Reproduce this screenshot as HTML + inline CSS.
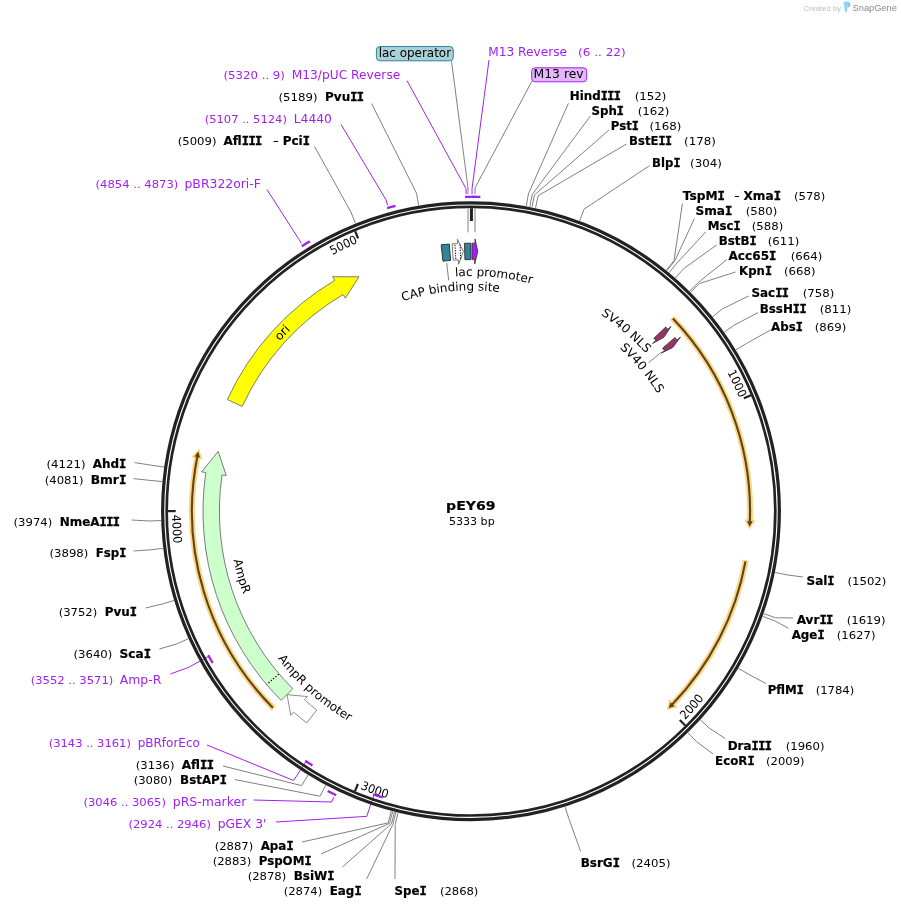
<!DOCTYPE html>
<html lang="en"><head><meta charset="utf-8"><title>pEY69 plasmid map</title>
<style>
html,body{margin:0;padding:0;background:#fff;}
svg{display:block;font-family:'DejaVu Sans','Liberation Sans',sans-serif;will-change:transform;}
.m{font-family:'DejaVu Sans Mono','Liberation Mono',monospace;letter-spacing:-0.6px;stroke-width:0.45px;}
.b{font-weight:bold;stroke:#000;stroke-width:0.2px;}
</style></head><body>
<svg width="901" height="909" viewBox="0 0 901 909" role="img" aria-label="pEY69 plasmid map">
<defs>
<path id="p1" d="M684.57 313.25 A291.2 291.2 0 0 1 739.4 398.23"/>
<path id="p2" d="M273.11 297.57 A291.2 291.2 0 0 1 358.11 242.77"/>
<path id="p3" d="M684.96 720.06 A299 299 0 0 0 743.49 634.28"/>
<path id="p4" d="M359.9 788.79 A299 299 0 0 0 461.54 810.05"/>
<path id="p5" d="M172.02 514.76 A299 299 0 0 0 191.27 616.81"/>
<path id="p6" d="M215.75 496.04 A255.7 255.7 0 0 1 441.61 257.19"/>
<path id="p7" d="M249.72 411.99 A242.5 242.5 0 0 0 334.87 711.89"/>
<path id="p8" d="M230.73 547.54 A243 243 0 0 0 465.06 754.13"/>
<path id="p9" d="M337.89 317.17 A235.3 235.3 0 0 1 638.97 346.42"/>
<path id="p10" d="M314.06 355.89 A220.8 220.8 0 0 1 596.7 329.67"/>
<path id="p11" d="M473.88 275.72 A235.5 235.5 0 0 1 703.4 473.14"/>
<path id="p12" d="M509.5 293.98 A220.6 220.6 0 0 1 691.6 511.39"/>
</defs>
<path d="M451.5 61 L468 188 L468 194 M468 209 L468 232.3" stroke="#808080" stroke-width="1" fill="none"/>
<path d="M532 81 L475 188 L475 194 M475 209 L475 232.3" stroke="#808080" stroke-width="1" fill="none"/>
<path d="M301.45 243.35 L298.51 238.71 L267 189.6" stroke="#a020f0" stroke-width="1" fill="none" stroke-linejoin="round"/>
<path d="M387.59 205.37 L386.14 200.06 L341 124.4" stroke="#a020f0" stroke-width="1" fill="none" stroke-linejoin="round"/>
<path d="M466.14 194.24 L466.06 188.74 L407 80.6" stroke="#a020f0" stroke-width="1" fill="none" stroke-linejoin="round"/>
<path d="M472.01 194.2 L472.03 188.7 L489 60" stroke="#a020f0" stroke-width="1" fill="none" stroke-linejoin="round"/>
<path d="M209.61 655.75 L188.78 667.27 L170.4 674" stroke="#a020f0" stroke-width="1" fill="none" stroke-linejoin="round"/>
<path d="M306.65 760.62 L293.56 780.5 L207 745" stroke="#a020f0" stroke-width="1" fill="none" stroke-linejoin="round"/>
<path d="M333.94 797.04 L331.56 802 L253.6 800" stroke="#a020f0" stroke-width="1" fill="none" stroke-linejoin="round"/>
<path d="M374.41 793.85 L366.71 816.37 L276 822" stroke="#a020f0" stroke-width="1" fill="none" stroke-linejoin="round"/>
<circle cx="471.0" cy="511.2" r="308.35" fill="none" stroke="#222222" stroke-width="3.2"/>
<circle cx="471.0" cy="511.2" r="304.3" fill="none" stroke="#222222" stroke-width="2.7"/>
<path d="M750.94 395.27 L743.83 398.21" stroke="#222222" stroke-width="2.2" fill="none"/>
<path d="M685.22 725.48 L679.78 720.04" stroke="#222222" stroke-width="2.2" fill="none"/>
<path d="M354.99 791.11 L357.93 784" stroke="#222222" stroke-width="2.2" fill="none"/>
<path d="M168 511.11 L175.7 511.11" stroke="#222222" stroke-width="2.2" fill="none"/>
<path d="M355.15 231.22 L358.09 238.34" stroke="#222222" stroke-width="2.2" fill="none"/>
<path d="M471.48 208.2 L471.46 220.9" stroke="#222222" stroke-width="3" fill="none"/>
<text font-size="12" fill="#000" text-anchor="end"><textPath href="#p1" startOffset="100%" textLength="28.4" lengthAdjust="spacingAndGlyphs">1000</textPath></text>
<text font-size="12" fill="#000" text-anchor="end"><textPath href="#p2" startOffset="100%" textLength="28.4" lengthAdjust="spacingAndGlyphs">5000</textPath></text>
<text font-size="12" fill="#000" text-anchor="start"><textPath href="#p3" startOffset="0" textLength="29" lengthAdjust="spacingAndGlyphs">2000</textPath></text>
<text font-size="12" fill="#000" text-anchor="start"><textPath href="#p4" startOffset="0" textLength="29" lengthAdjust="spacingAndGlyphs">3000</textPath></text>
<text font-size="12" fill="#000" text-anchor="start"><textPath href="#p5" startOffset="0" textLength="29" lengthAdjust="spacingAndGlyphs">4000</textPath></text>
<path d="M672.07 317.71 A279.05 279.05 0 0 1 749.91 520.05" fill="none" stroke="#ffd580" stroke-width="6"/>
<path d="M744.03 519.38 L749.45 529.55 L755.82 519.74 Z" fill="#ffd580"/>
<path d="M672.9 318.57 A279.05 279.05 0 0 1 749.86 521.55" fill="none" stroke="#5a4620" stroke-width="2.1"/>
<path d="M746.98 520.96 L749.62 526.65 L752.77 521.16 Z" fill="#5a4620"/>
<path d="M745.73 560.14 A279.05 279.05 0 0 1 673.26 703.45" fill="none" stroke="#ffd580" stroke-width="6"/>
<path d="M669.31 699.04 L666.59 710.23 L677.88 707.15 Z" fill="#ffd580"/>
<path d="M745.51 561.32 A279.05 279.05 0 0 1 672.22 704.53" fill="none" stroke="#5a4620" stroke-width="2.1"/>
<path d="M670.47 702.18 L668.65 708.19 L674.65 706.19 Z" fill="#5a4620"/>
<path d="M273.68 708.52 A279.05 279.05 0 0 1 197.06 458.07" fill="none" stroke="#ffd580" stroke-width="6"/>
<path d="M202.76 459.66 L199.03 448.76 L191.17 457.43 Z" fill="#ffd580"/>
<path d="M272.84 707.67 A279.05 279.05 0 0 1 197.34 456.59" fill="none" stroke="#5a4620" stroke-width="2.1"/>
<path d="M200.09 457.63 L198.39 451.59 L194.41 456.51 Z" fill="#5a4620"/>
<path d="M242.27 406.38 A251.6 251.6 0 0 1 343.13 294.52 L345.31 298.22 L358.99 276.79 L332.61 276.69 L334.79 280.39 A268 268 0 0 0 227.36 399.55 Z" fill="#ffff00" stroke="#666" stroke-width="0.85" stroke-linejoin="miter"/>
<path d="M292.78 688.8 A251.6 251.6 0 0 1 222.03 474.91 L226.29 475.53 L218.17 451.43 L201.55 471.92 L205.8 472.54 A268 268 0 0 0 281.16 700.37 Z" fill="#ccffcc" stroke="#666" stroke-width="0.85" stroke-linejoin="miter"/>
<path d="M278.73 674.26 L266.99 684.22" stroke="#fff" stroke-width="1.2" fill="none"/>
<path d="M278.73 674.26 L266.99 684.22" stroke="#000" stroke-width="1.2" stroke-dasharray="1.4 1.6" fill="none"/>
<path d="M316.79 710 A251.6 251.6 0 0 1 304.48 699.81 L307.33 696.59 L287.04 694.65 L290.78 715.33 L293.63 712.11 A268 268 0 0 0 306.74 722.96 Z" fill="#ffffff" stroke="#777" stroke-width="0.85" stroke-linejoin="miter"/>
<path d="M442.95 261.17 A251.6 251.6 0 0 1 450.6 260.43 L449.27 244.08 A268 268 0 0 0 441.13 244.87 Z" fill="#31849b" stroke="#333" stroke-width="1"/>
<path d="M453.23 260.23 A251.6 251.6 0 0 1 458.42 259.91 L458.64 264.21 L463.38 251.51 L457.39 239.24 L457.6 243.53 A268 268 0 0 0 452.07 243.87 Z" fill="#ffffff" stroke="#666" stroke-width="0.85" stroke-linejoin="miter"/>
<path d="M455.8 259.06 L454.93 244.68" stroke="#000" stroke-width="1" stroke-dasharray="1.3 1.3" fill="none"/>
<path d="M460.64 258.81 L460.05 244.42" stroke="#000" stroke-width="1" stroke-dasharray="1.3 1.3" fill="none"/>
<path d="M464.94 259.67 A251.6 251.6 0 0 1 470.78 259.6 L470.77 243.2 A268 268 0 0 0 464.55 243.28 Z" fill="#31849b" stroke="#333" stroke-width="1"/>
<path d="M471.97 259.6 A251.6 251.6 0 0 1 474.78 259.63 L474.71 263.93 L477.8 251.49 L475.09 238.93 L475.02 243.23 A268 268 0 0 0 472.03 243.2 Z" fill="#a020f0" stroke="#333" stroke-width="0.85" stroke-linejoin="miter"/>
<path d="M653.81 338.33 A251.6 251.6 0 0 1 655.83 340.49 L652.67 343.41 L663.92 337.19 L671.04 326.45 L667.88 329.37 A268 268 0 0 0 665.72 327.06 Z" fill="#993366" stroke="#333" stroke-width="0.85" stroke-linejoin="miter"/>
<path d="M662.6 348.13 A251.6 251.6 0 0 1 664.51 350.4 L661.2 353.15 L672.76 347.53 L680.43 337.17 L677.12 339.92 A268 268 0 0 0 675.09 337.5 Z" fill="#993366" stroke="#333" stroke-width="0.85" stroke-linejoin="miter"/>
<text font-size="12" fill="#000" text-anchor="middle"><textPath href="#p6" startOffset="50%" textLength="15.9" lengthAdjust="spacingAndGlyphs">ori</textPath></text>
<text font-size="12" fill="#000" text-anchor="middle"><textPath href="#p7" startOffset="50%" textLength="35.7" lengthAdjust="spacingAndGlyphs">AmpR</textPath></text>
<text font-size="12" fill="#000" text-anchor="middle"><textPath href="#p8" startOffset="50%" textLength="95.5" lengthAdjust="spacingAndGlyphs">AmpR promoter</textPath></text>
<text font-size="12" fill="#000" text-anchor="middle"><textPath href="#p9" startOffset="50%" textLength="77.2" lengthAdjust="spacingAndGlyphs">lac promoter</textPath></text>
<text font-size="12" fill="#000" text-anchor="middle"><textPath href="#p10" startOffset="50%" textLength="97.8" lengthAdjust="spacingAndGlyphs">CAP binding site</textPath></text>
<text font-size="12" fill="#000" text-anchor="middle"><textPath href="#p11" startOffset="50%" textLength="59.8" lengthAdjust="spacingAndGlyphs">SV40 NLS</textPath></text>
<text font-size="12" fill="#000" text-anchor="middle"><textPath href="#p12" startOffset="50%" textLength="59.8" lengthAdjust="spacingAndGlyphs">SV40 NLS</textPath></text>
<path d="M446.7 263 L448.7 280.3" stroke="#808080" stroke-width="1" fill="none"/>
<path d="M660.7 352.7 L648.7 362.7" stroke="#808080" stroke-width="1" fill="none"/>
<path d="M526.22 206.16 L528.45 193.86 L568.4 103.4" stroke="#808080" stroke-width="1" fill="none" stroke-linejoin="round"/>
<text x="569.7" y="100" font-size="12" class="b" fill="#000" textLength="50.65" lengthAdjust="spacingAndGlyphs">Hind<tspan class="m">III</tspan></text>
<text x="634.7" y="100" font-size="11" fill="#000" textLength="31.8" lengthAdjust="spacingAndGlyphs">(152)</text>
<path d="M529.81 206.83 L532.18 194.56 L590.4 116" stroke="#808080" stroke-width="1" fill="none" stroke-linejoin="round"/>
<text x="591.5" y="115" font-size="12" class="b" fill="#000" textLength="31.85" lengthAdjust="spacingAndGlyphs">Sph<tspan class="m">I</tspan></text>
<text x="637.7" y="115" font-size="11" fill="#000" textLength="31.8" lengthAdjust="spacingAndGlyphs">(162)</text>
<path d="M531.96 207.25 L534.42 195 L609 130" stroke="#808080" stroke-width="1" fill="none" stroke-linejoin="round"/>
<text x="610.7" y="130" font-size="12" class="b" fill="#000" textLength="27.65" lengthAdjust="spacingAndGlyphs">Pst<tspan class="m">I</tspan></text>
<text x="649.5" y="130" font-size="11" fill="#000" textLength="31.8" lengthAdjust="spacingAndGlyphs">(168)</text>
<path d="M535.54 207.99 L538.14 195.77 L626.6 144" stroke="#808080" stroke-width="1" fill="none" stroke-linejoin="round"/>
<text x="629.1" y="145" font-size="12" class="b" fill="#000" textLength="42.25" lengthAdjust="spacingAndGlyphs">BstE<tspan class="m">II</tspan></text>
<text x="684.1" y="145" font-size="11" fill="#000" textLength="31.8" lengthAdjust="spacingAndGlyphs">(178)</text>
<path d="M579.67 220.87 L584.05 209.17 L649.6 165.6" stroke="#808080" stroke-width="1" fill="none" stroke-linejoin="round"/>
<text x="652.1" y="167" font-size="12" class="b" fill="#000" textLength="27.75" lengthAdjust="spacingAndGlyphs">Blp<tspan class="m">I</tspan></text>
<text x="690.1" y="167" font-size="11" fill="#000" textLength="31.8" lengthAdjust="spacingAndGlyphs">(304)</text>
<path d="M666.73 270.8 L674.62 261.11 L694.4 218.6" stroke="#808080" stroke-width="1" fill="none" stroke-linejoin="round"/>
<text x="695.5" y="215" font-size="12" class="b" fill="#000" textLength="36.25" lengthAdjust="spacingAndGlyphs">Sma<tspan class="m">I</tspan></text>
<text x="745.7" y="215" font-size="11" fill="#000" textLength="31.6" lengthAdjust="spacingAndGlyphs">(580)</text>
<path d="M668.99 272.66 L676.97 263.04 L705.6 232" stroke="#808080" stroke-width="1" fill="none" stroke-linejoin="round"/>
<text x="707.7" y="230" font-size="12" class="b" fill="#000" textLength="32.25" lengthAdjust="spacingAndGlyphs">Msc<tspan class="m">I</tspan></text>
<text x="751.7" y="230" font-size="11" fill="#000" textLength="31.6" lengthAdjust="spacingAndGlyphs">(588)</text>
<path d="M675.38 278.11 L683.62 268.71 L716.6 245" stroke="#808080" stroke-width="1" fill="none" stroke-linejoin="round"/>
<text x="718.7" y="245" font-size="12" class="b" fill="#000" textLength="37.25" lengthAdjust="spacingAndGlyphs">BstB<tspan class="m">I</tspan></text>
<text x="767.7" y="245" font-size="11" fill="#000" textLength="31.6" lengthAdjust="spacingAndGlyphs">(611)</text>
<path d="M689.52 291.32 L698.34 282.45 L727 259.4" stroke="#808080" stroke-width="1" fill="none" stroke-linejoin="round"/>
<text x="728.5" y="260" font-size="12" class="b" fill="#000" textLength="47.25" lengthAdjust="spacingAndGlyphs">Acc65<tspan class="m">I</tspan></text>
<text x="790.7" y="260" font-size="11" fill="#000" textLength="31.6" lengthAdjust="spacingAndGlyphs">(664)</text>
<path d="M690.56 292.35 L699.41 283.53 L735.6 272" stroke="#808080" stroke-width="1" fill="none" stroke-linejoin="round"/>
<text x="739.1" y="275" font-size="12" class="b" fill="#000" textLength="32.25" lengthAdjust="spacingAndGlyphs">Kpn<tspan class="m">I</tspan></text>
<text x="783.9" y="275" font-size="11" fill="#000" textLength="31.6" lengthAdjust="spacingAndGlyphs">(668)</text>
<path d="M712.49 316.82 L722.22 308.98 L748.6 296" stroke="#808080" stroke-width="1" fill="none" stroke-linejoin="round"/>
<text x="751.5" y="297" font-size="12" class="b" fill="#000" textLength="36.85" lengthAdjust="spacingAndGlyphs">Sac<tspan class="m">II</tspan></text>
<text x="802.7" y="297" font-size="11" fill="#000" textLength="31.6" lengthAdjust="spacingAndGlyphs">(758)</text>
<path d="M724.15 332.27 L734.35 325.05 L758 312.6" stroke="#808080" stroke-width="1" fill="none" stroke-linejoin="round"/>
<text x="759.7" y="313" font-size="12" class="b" fill="#000" textLength="46.25" lengthAdjust="spacingAndGlyphs">BssH<tspan class="m">II</tspan></text>
<text x="819.7" y="313" font-size="11" fill="#000" textLength="31.6" lengthAdjust="spacingAndGlyphs">(811)</text>
<path d="M735.77 349.97 L746.45 343.47 L770.6 330" stroke="#808080" stroke-width="1" fill="none" stroke-linejoin="round"/>
<text x="771.1" y="331" font-size="12" class="b" fill="#000" textLength="31.25" lengthAdjust="spacingAndGlyphs">Abs<tspan class="m">I</tspan></text>
<text x="814.7" y="331" font-size="11" fill="#000" textLength="31.6" lengthAdjust="spacingAndGlyphs">(869)</text>
<path d="M774.89 572.43 L787.15 574.9 L803 577" stroke="#808080" stroke-width="1" fill="none" stroke-linejoin="round"/>
<text x="806.5" y="585" font-size="12" class="b" fill="#000" textLength="27.45" lengthAdjust="spacingAndGlyphs">Sal<tspan class="m">I</tspan></text>
<text x="847.5" y="585" font-size="11" fill="#000" textLength="38.8" lengthAdjust="spacingAndGlyphs">(1502)</text>
<path d="M763.6 613.6 L775.4 617.73 L793 618" stroke="#808080" stroke-width="1" fill="none" stroke-linejoin="round"/>
<text x="796.7" y="624" font-size="12" class="b" fill="#000" textLength="36.05" lengthAdjust="spacingAndGlyphs">Avr<tspan class="m">II</tspan></text>
<text x="846.7" y="624" font-size="11" fill="#000" textLength="38.8" lengthAdjust="spacingAndGlyphs">(1619)</text>
<path d="M762.62 616.36 L774.38 620.6 L788.6 628.4" stroke="#808080" stroke-width="1" fill="none" stroke-linejoin="round"/>
<text x="791.7" y="639" font-size="12" class="b" fill="#000" textLength="32.25" lengthAdjust="spacingAndGlyphs">Age<tspan class="m">I</tspan></text>
<text x="836.7" y="639" font-size="11" fill="#000" textLength="38.8" lengthAdjust="spacingAndGlyphs">(1627)</text>
<path d="M738.3 668.2 L749.08 674.53 L766 683.6" stroke="#808080" stroke-width="1" fill="none" stroke-linejoin="round"/>
<text x="767.7" y="694" font-size="12" class="b" fill="#000" textLength="35.65" lengthAdjust="spacingAndGlyphs">PflM<tspan class="m">I</tspan></text>
<text x="815.7" y="694" font-size="11" fill="#000" textLength="38.6" lengthAdjust="spacingAndGlyphs">(1784)</text>
<path d="M700.26 719.87 L709.5 728.28 L725.4 738.6" stroke="#808080" stroke-width="1" fill="none" stroke-linejoin="round"/>
<text x="727.7" y="750" font-size="12" class="b" fill="#000" textLength="43.65" lengthAdjust="spacingAndGlyphs">Dra<tspan class="m">III</tspan></text>
<text x="785.7" y="750" font-size="11" fill="#000" textLength="38.8" lengthAdjust="spacingAndGlyphs">(1960)</text>
<path d="M687.83 732.75 L696.58 741.68 L713 754" stroke="#808080" stroke-width="1" fill="none" stroke-linejoin="round"/>
<text x="715.1" y="765" font-size="12" class="b" fill="#000" textLength="38.85" lengthAdjust="spacingAndGlyphs">EcoR<tspan class="m">I</tspan></text>
<text x="766.1" y="765" font-size="11" fill="#000" textLength="38.4" lengthAdjust="spacingAndGlyphs">(2009)</text>
<path d="M565 806.6 L568.8 818.51 L580.6 851.4" stroke="#808080" stroke-width="1" fill="none" stroke-linejoin="round"/>
<text x="580.7" y="867" font-size="12" class="b" fill="#000" textLength="38.65" lengthAdjust="spacingAndGlyphs">BsrG<tspan class="m">I</tspan></text>
<text x="631.5" y="867" font-size="11" fill="#000" textLength="39" lengthAdjust="spacingAndGlyphs">(2405)</text>
<path d="M398.09 812.51 L395.16 824.65 L395 879" stroke="#808080" stroke-width="1" fill="none" stroke-linejoin="round"/>
<text x="394.6" y="895" font-size="12" class="b" fill="#000" textLength="31.55" lengthAdjust="spacingAndGlyphs">Spe<tspan class="m">I</tspan></text>
<text x="439.9" y="895" font-size="11" fill="#000" textLength="38.5" lengthAdjust="spacingAndGlyphs">(2868)</text>
<path d="M666.16 270.34 L674.03 260.63 L682.4 203.6" stroke="#808080" stroke-width="1" fill="none" stroke-linejoin="round"/>
<text x="682.7" y="200" font-size="12" class="b" fill="#000" textLength="41.65" lengthAdjust="spacingAndGlyphs">TspM<tspan class="m">I</tspan></text>
<text x="734.1" y="200" font-size="12" fill="#000" textLength="5.8" lengthAdjust="spacingAndGlyphs">-</text>
<text x="743.5" y="200" font-size="12" class="b" fill="#000" textLength="36.85" lengthAdjust="spacingAndGlyphs">Xma<tspan class="m">I</tspan></text>
<text x="794.1" y="200" font-size="11" fill="#000" textLength="31.2" lengthAdjust="spacingAndGlyphs">(578)</text>
<path d="M395.97 811.98 L392.94 824.11 L366.7 879" stroke="#808080" stroke-width="1" fill="none" stroke-linejoin="round"/>
<text x="283.7" y="895" font-size="11" fill="#000" textLength="38.6" lengthAdjust="spacingAndGlyphs">(2874)</text>
<text x="329.7" y="895" font-size="12" class="b" fill="#000" textLength="31.25" lengthAdjust="spacingAndGlyphs">Eag<tspan class="m">I</tspan></text>
<path d="M394.55 811.63 L391.47 823.74 L342.4 867" stroke="#808080" stroke-width="1" fill="none" stroke-linejoin="round"/>
<text x="247.7" y="880" font-size="11" fill="#000" textLength="38.6" lengthAdjust="spacingAndGlyphs">(2878)</text>
<text x="293.7" y="880" font-size="12" class="b" fill="#000" textLength="40.25" lengthAdjust="spacingAndGlyphs">BsiW<tspan class="m">I</tspan></text>
<path d="M392.78 811.17 L389.63 823.27 L321 854" stroke="#808080" stroke-width="1" fill="none" stroke-linejoin="round"/>
<text x="212.7" y="865" font-size="11" fill="#000" textLength="38.6" lengthAdjust="spacingAndGlyphs">(2883)</text>
<text x="258.7" y="865" font-size="12" class="b" fill="#000" textLength="52.25" lengthAdjust="spacingAndGlyphs">PspOM<tspan class="m">I</tspan></text>
<path d="M391.37 810.8 L388.16 822.88 L302 842" stroke="#808080" stroke-width="1" fill="none" stroke-linejoin="round"/>
<text x="214.7" y="850" font-size="11" fill="#000" textLength="38.6" lengthAdjust="spacingAndGlyphs">(2887)</text>
<text x="260.7" y="850" font-size="12" class="b" fill="#000" textLength="32.25" lengthAdjust="spacingAndGlyphs">Apa<tspan class="m">I</tspan></text>
<path d="M325.88 785.13 L320.03 796.18 L235 779.6" stroke="#808080" stroke-width="1" fill="none" stroke-linejoin="round"/>
<text x="133.7" y="784" font-size="11" fill="#000" textLength="38.6" lengthAdjust="spacingAndGlyphs">(3080)</text>
<text x="180.1" y="784" font-size="12" class="b" fill="#000" textLength="46.25" lengthAdjust="spacingAndGlyphs">BstAP<tspan class="m">I</tspan></text>
<path d="M308.13 774.97 L301.57 785.61 L223 766" stroke="#808080" stroke-width="1" fill="none" stroke-linejoin="round"/>
<text x="135.7" y="769" font-size="11" fill="#000" textLength="38.8" lengthAdjust="spacingAndGlyphs">(3136)</text>
<text x="181.7" y="769" font-size="12" class="b" fill="#000" textLength="31.65" lengthAdjust="spacingAndGlyphs">Afl<tspan class="m">II</tspan></text>
<path d="M188.43 638.69 L177.04 643.83 L159.4 649" stroke="#808080" stroke-width="1" fill="none" stroke-linejoin="round"/>
<text x="73.5" y="658" font-size="11" fill="#000" textLength="38.8" lengthAdjust="spacingAndGlyphs">(3640)</text>
<text x="119.5" y="658" font-size="12" class="b" fill="#000" textLength="30.85" lengthAdjust="spacingAndGlyphs">Sca<tspan class="m">I</tspan></text>
<path d="M174.11 600.41 L162.14 604 L145.6 608" stroke="#808080" stroke-width="1" fill="none" stroke-linejoin="round"/>
<text x="58.7" y="616" font-size="11" fill="#000" textLength="38.6" lengthAdjust="spacingAndGlyphs">(3752)</text>
<text x="104.7" y="616" font-size="12" class="b" fill="#000" textLength="31.65" lengthAdjust="spacingAndGlyphs">Pvu<tspan class="m">I</tspan></text>
<path d="M163.22 548.27 L150.81 549.77 L133.6 551" stroke="#808080" stroke-width="1" fill="none" stroke-linejoin="round"/>
<text x="49.5" y="557" font-size="11" fill="#000" textLength="38.8" lengthAdjust="spacingAndGlyphs">(3898)</text>
<text x="95.7" y="557" font-size="12" class="b" fill="#000" textLength="30.05" lengthAdjust="spacingAndGlyphs">Fsp<tspan class="m">I</tspan></text>
<path d="M161.14 520.6 L148.65 520.98 L131.6 520" stroke="#808080" stroke-width="1" fill="none" stroke-linejoin="round"/>
<text x="13.5" y="526" font-size="11" fill="#000" textLength="38.8" lengthAdjust="spacingAndGlyphs">(3974)</text>
<text x="59.7" y="526" font-size="12" class="b" fill="#000" textLength="59.65" lengthAdjust="spacingAndGlyphs">NmeA<tspan class="m">III</tspan></text>
<path d="M162.42 481.57 L149.98 480.38 L133.6 478.6" stroke="#808080" stroke-width="1" fill="none" stroke-linejoin="round"/>
<text x="44.7" y="484" font-size="11" fill="#000" textLength="38.8" lengthAdjust="spacingAndGlyphs">(4081)</text>
<text x="90.7" y="484" font-size="12" class="b" fill="#000" textLength="35.05" lengthAdjust="spacingAndGlyphs">Bmr<tspan class="m">I</tspan></text>
<path d="M164.16 467.07 L151.79 465.29 L134.6 462.6" stroke="#808080" stroke-width="1" fill="none" stroke-linejoin="round"/>
<text x="46.5" y="468" font-size="11" fill="#000" textLength="39" lengthAdjust="spacingAndGlyphs">(4121)</text>
<text x="92.7" y="468" font-size="12" class="b" fill="#000" textLength="33.05" lengthAdjust="spacingAndGlyphs">Ahd<tspan class="m">I</tspan></text>
<path d="M418.66 205.65 L416.55 193.33 L371.6 103.6" stroke="#808080" stroke-width="1" fill="none" stroke-linejoin="round"/>
<text x="278.5" y="101" font-size="11" fill="#000" textLength="39" lengthAdjust="spacingAndGlyphs">(5189)</text>
<text x="325.1" y="101" font-size="12" class="b" fill="#000" textLength="38.25" lengthAdjust="spacingAndGlyphs">Pvu<tspan class="m">II</tspan></text>
<path d="M355.52 223.51 L350.86 211.91 L314.6 146.6" stroke="#808080" stroke-width="1" fill="none" stroke-linejoin="round"/>
<text x="177.7" y="145" font-size="11" fill="#000" textLength="38.8" lengthAdjust="spacingAndGlyphs">(5009)</text>
<text x="223.5" y="145" font-size="12" class="b" fill="#000" textLength="38.25" lengthAdjust="spacingAndGlyphs">Afl<tspan class="m">III</tspan></text>
<text x="272.7" y="145" font-size="12" fill="#000" textLength="6.2" lengthAdjust="spacingAndGlyphs">-</text>
<text x="282.7" y="145" font-size="12" class="b" fill="#000" textLength="26.65" lengthAdjust="spacingAndGlyphs">Pci<tspan class="m">I</tspan></text>
<path d="M301.82 246.2 A314.4 314.4 0 0 1 309.86 241.23" fill="none" stroke="#a020f0" stroke-width="2.3"/>
<text x="184.5" y="188" font-size="12" fill="#a020f0" textLength="76.4" lengthAdjust="spacingAndGlyphs">pBR322ori-F</text>
<text x="95.5" y="188" font-size="11" fill="#a020f0" textLength="82.8" lengthAdjust="spacingAndGlyphs">(4854 .. 4873)</text>
<path d="M387.11 208.2 A314.4 314.4 0 0 1 395.53 205.99" fill="none" stroke="#a020f0" stroke-width="2.3"/>
<text x="293.7" y="123" font-size="12" fill="#a020f0" textLength="38.2" lengthAdjust="spacingAndGlyphs">L4440</text>
<text x="204.7" y="123" font-size="11" fill="#a020f0" textLength="82.2" lengthAdjust="spacingAndGlyphs">(5107 .. 5124)</text>
<path d="M464.98 196.86 A314.4 314.4 0 0 1 475.54 196.83" fill="none" stroke="#a020f0" stroke-width="2.3"/>
<text x="291.7" y="79" font-size="12" fill="#a020f0" textLength="108.6" lengthAdjust="spacingAndGlyphs">M13/pUC Reverse</text>
<text x="223.5" y="79" font-size="11" fill="#a020f0" textLength="61.4" lengthAdjust="spacingAndGlyphs">(5320 .. 9)</text>
<path d="M472.02 196.8 A314.4 314.4 0 0 1 480.36 196.94" fill="none" stroke="#a020f0" stroke-width="2.3"/>
<text x="488.3" y="56" font-size="12" fill="#a020f0" textLength="78.7" lengthAdjust="spacingAndGlyphs">M13 Reverse</text>
<text x="578" y="56" font-size="11" fill="#a020f0" textLength="47.7" lengthAdjust="spacingAndGlyphs">(6 .. 22)</text>
<path d="M212.71 663.01 A299.6 299.6 0 0 1 208.26 655.18" fill="none" stroke="#a020f0" stroke-width="2.3"/>
<text x="119.7" y="684" font-size="12" fill="#a020f0" textLength="41.6" lengthAdjust="spacingAndGlyphs">Amp-R</text>
<text x="30.7" y="684" font-size="11" fill="#a020f0" textLength="82.6" lengthAdjust="spacingAndGlyphs">(3552 .. 3571)</text>
<path d="M312.48 765.43 A299.6 299.6 0 0 1 305.2 760.74" fill="none" stroke="#a020f0" stroke-width="2.3"/>
<text x="137.7" y="747" font-size="12" fill="#a020f0" textLength="62.2" lengthAdjust="spacingAndGlyphs">pBRforEco</text>
<text x="48.7" y="747" font-size="11" fill="#a020f0" textLength="82.2" lengthAdjust="spacingAndGlyphs">(3143 .. 3161)</text>
<path d="M336.15 795.21 A314.4 314.4 0 0 1 327.68 791.03" fill="none" stroke="#a020f0" stroke-width="2.3"/>
<text x="172.7" y="806" font-size="12" fill="#a020f0" textLength="73.7" lengthAdjust="spacingAndGlyphs">pRS-marker</text>
<text x="83.5" y="806" font-size="11" fill="#a020f0" textLength="82.4" lengthAdjust="spacingAndGlyphs">(3046 .. 3065)</text>
<path d="M382.59 797.46 A299.6 299.6 0 0 1 373.03 794.33" fill="none" stroke="#a020f0" stroke-width="2.3"/>
<text x="217.7" y="828" font-size="12" fill="#a020f0" textLength="48.7" lengthAdjust="spacingAndGlyphs">pGEX 3'</text>
<text x="128.5" y="828" font-size="11" fill="#a020f0" textLength="82.4" lengthAdjust="spacingAndGlyphs">(2924 .. 2946)</text>
<rect x="376.4" y="46.5" width="76.9" height="14.3" rx="3.5" ry="3.5" fill="#a9cfd9" stroke="#31849b" stroke-width="1"/>
<text x="378.7" y="57.2" font-size="12" fill="#000" textLength="72.4" lengthAdjust="spacingAndGlyphs">lac operator</text>
<rect x="531.7" y="67.8" width="55" height="14" rx="3.5" ry="3.5" fill="#e3b8fb" stroke="#a020f0" stroke-width="1"/>
<text x="533.6" y="78" font-size="12" fill="#000" textLength="50" lengthAdjust="spacingAndGlyphs">M13 rev</text>
<text x="446.1" y="510.2" font-size="13" class="b" fill="#000" textLength="49.4" lengthAdjust="spacingAndGlyphs">pEY69</text>
<text x="448.9" y="524.7" font-size="10.6" fill="#000" textLength="45.8" lengthAdjust="spacingAndGlyphs">5333 bp</text>
<text x="803.5" y="10.5" font-size="7" fill="#bdbdbd" font-family="'Liberation Sans',sans-serif" textLength="37.5" lengthAdjust="spacingAndGlyphs">Created by</text>
<path d="M843.4 2 L848.2 1.6 L848.2 4.2 L846.6 12.2 L845.2 12.2 Z" fill="#8fd3f7"/>
<path d="M848.2 1.6 Q850.6 2.4 850.4 5 Q850.2 7 848 7.6 Z" fill="#5ab8ee" opacity="0.8"/>
<text x="852.6" y="10.5" font-size="9.2" fill="#858b94" font-family="'Liberation Sans',sans-serif" textLength="44.2" lengthAdjust="spacingAndGlyphs">SnapGene</text>
</svg>
</body></html>
